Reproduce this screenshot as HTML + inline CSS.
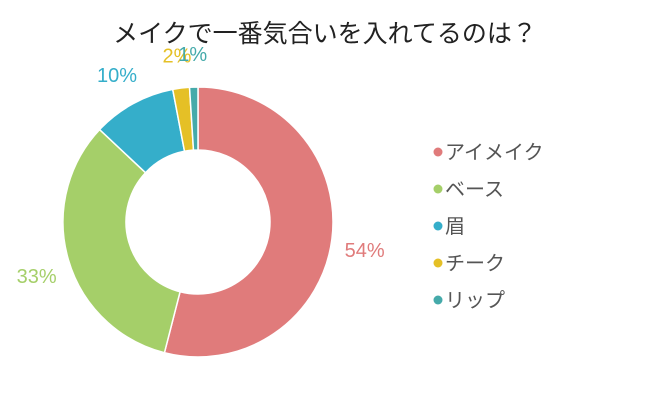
<!DOCTYPE html>
<html><head><meta charset="utf-8"><style>
body{margin:0;background:#fff;}
svg{display:block;font-family:"Liberation Sans","Noto Sans CJK JP",sans-serif;}
</style></head><body>
<svg id="chart" width="650" height="400" viewBox="0 0 650 400">
<text x="325" y="42" text-anchor="middle" font-size="25" fill="#222">メイクで一番気合いを入れてるのは？</text>
<g id="slices"></g><g id="labels"></g><g id="legend"></g>
</svg>
<script>
const categories=["アイメイク","ベース","眉","チーク","リップ"];
const values=[54,33,10,2,1];
const colors=["#e07b7b","#a5cf69","#35aeca","#e5c026","#45aaaa"];
const NS="http://www.w3.org/2000/svg";
const cx=198,cy=222,R=135,r=72;
const total=values.reduce((a,b)=>a+b,0);
function pt(a,rad){return [cx+rad*Math.sin(a),cy-rad*Math.cos(a)];}
let acc=0;
const sg=document.getElementById('slices'),lg=document.getElementById('labels'),leg=document.getElementById('legend');
values.forEach((v,i)=>{
  const a0=acc/total*2*Math.PI;acc+=v;const a1=acc/total*2*Math.PI;
  const big=(a1-a0)>Math.PI?1:0;
  const p0=pt(a0,R),p1=pt(a1,R),q1=pt(a1,r),q0=pt(a0,r);
  const p=document.createElementNS(NS,'path');
  
  
  p.setAttribute('d',`M${p0[0]},${p0[1]}A${R},${R} 0 ${big} 1 ${p1[0]},${p1[1]}L${q1[0]},${q1[1]}A${r},${r} 0 ${big} 0 ${q0[0]},${q0[1]}Z`);
  p.setAttribute('fill',colors[i]);p.setAttribute('stroke','#fff');p.setAttribute('stroke-width','1.5');
  sg.appendChild(p);
  const am=(a0+a1)/2;const lp=pt(am,168);
  const t=document.createElementNS(NS,'text');
  
  
  t.setAttribute('x',lp[0]);t.setAttribute('y',lp[1]+(Math.cos(am)<0?14:7));
  t.setAttribute('text-anchor','middle');t.setAttribute('font-size','20');t.setAttribute('fill',colors[i]);
  t.textContent=v+'%';lg.appendChild(t);
  const y=152+i*37;
  const g=document.createElementNS(NS,'g');
  
  
  const c=document.createElementNS(NS,'circle');
  
  
  c.setAttribute('cx',438);c.setAttribute('cy',y);c.setAttribute('r',4.5);c.setAttribute('fill',colors[i]);
  const tt=document.createElementNS(NS,'text');
  
  
  tt.setAttribute('x',445);tt.setAttribute('y',y+7);tt.setAttribute('font-size','20');tt.setAttribute('fill','#555');
  tt.textContent=categories[i];
  g.appendChild(c);g.appendChild(tt);leg.appendChild(g);
});
</script>
</body></html>
